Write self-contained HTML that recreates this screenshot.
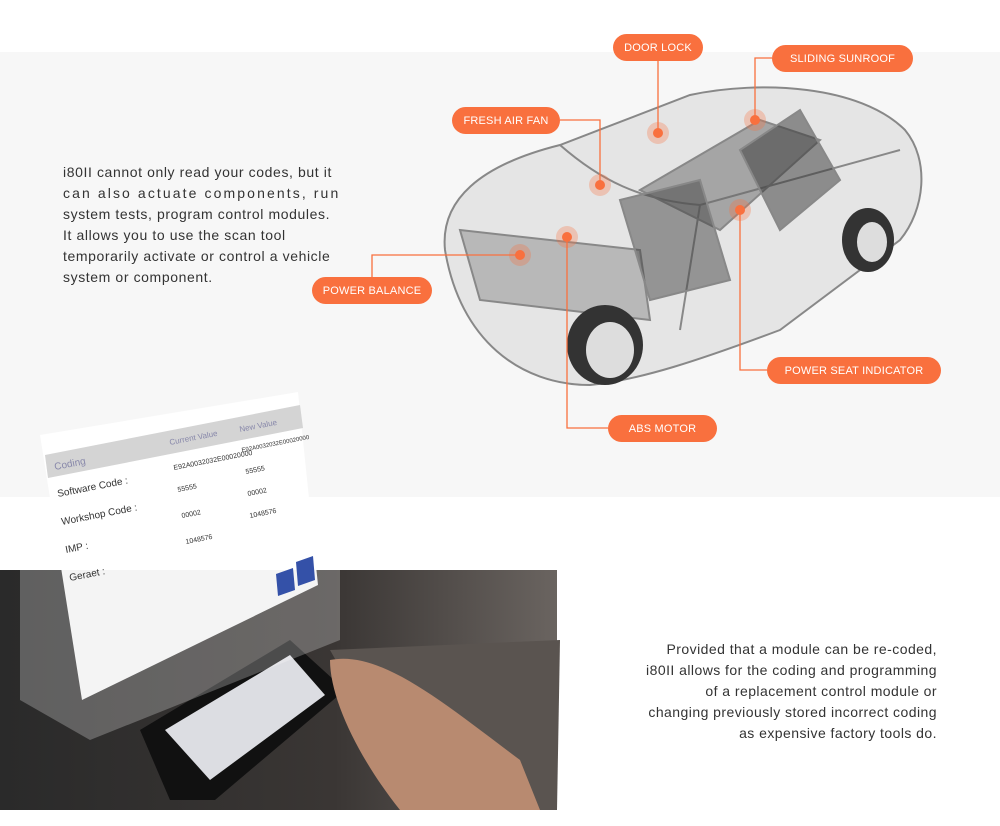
<!DOCTYPE html>
<html><head><meta charset="utf-8"><style>
body{margin:0;width:1000px;height:826px;position:relative;background:#fff;font-family:"Liberation Sans",sans-serif;overflow:hidden}
.bg{position:absolute;left:0;top:52px;width:1000px;height:445px;background:#f7f7f7}
.pill{position:absolute;height:27px;line-height:28px;background:#f9703e;color:#fff;font-size:11px;text-align:center;border-radius:14px;letter-spacing:.2px}
.t1{position:absolute;left:63px;top:162px;font-size:14px;line-height:21px;color:#333;white-space:nowrap;letter-spacing:.6px}
.t2{position:absolute;right:63px;top:639px;font-size:14px;line-height:21px;color:#333;text-align:right;white-space:nowrap;letter-spacing:.45px}
</style></head><body>
<div class="bg"></div>
<div class="t1">i80II cannot only read your codes, but it<br><span style="letter-spacing:2.1px">can also actuate components, run</span><br>system tests, program control modules.<br>It allows you to use the scan tool<br>temporarily activate or control a vehicle<br>system or component.</div>
<svg style="position:absolute;left:0;top:0" width="1000" height="826">
<g fill="none" stroke="#888" stroke-width="2">
<path d="M445,250 C440,200 480,165 560,145 L690,95 C760,80 860,85 905,130 C930,160 925,210 900,240 L780,330 C700,360 640,380 590,385 C520,385 460,340 445,250Z" fill="#ddd" fill-opacity=".7"/>
<path d="M560,145 C600,180 640,200 700,205 L900,150" />
<path d="M700,205 L680,330"/>
<path d="M460,230 L640,250 L650,320 L480,300Z" fill="#999" fill-opacity=".6"/>
<path d="M640,190 L760,120 L820,140 L720,230Z" fill="#666" fill-opacity=".5"/>
<path d="M620,200 L700,180 L730,280 L650,300Z" fill="#444" fill-opacity=".5"/>
<path d="M740,150 L800,110 L840,180 L780,230Z" fill="#333" fill-opacity=".5"/>
</g>
<ellipse cx="605" cy="345" rx="38" ry="40" fill="#333"/><ellipse cx="610" cy="350" rx="24" ry="28" fill="#ddd"/>
<ellipse cx="868" cy="240" rx="26" ry="32" fill="#333"/><ellipse cx="872" cy="242" rx="15" ry="20" fill="#ddd"/>
<g stroke="#f9703e" stroke-width="1.3" fill="none">
<path d="M658,61 V133"/><path d="M772,58 H755 V120"/><path d="M560,120 H600 V185"/>
<path d="M372,277 V255 H520"/><path d="M608,428 H567 V237"/><path d="M767,370 H740 V210"/>
</g>
<g fill="#f9703e">
<circle cx="658" cy="133" r="11" opacity=".3"/><circle cx="658" cy="133" r="5"/>
<circle cx="755" cy="120" r="11" opacity=".3"/><circle cx="755" cy="120" r="5"/>
<circle cx="600" cy="185" r="11" opacity=".3"/><circle cx="600" cy="185" r="5"/>
<circle cx="520" cy="255" r="11" opacity=".3"/><circle cx="520" cy="255" r="5"/>
<circle cx="567" cy="237" r="11" opacity=".3"/><circle cx="567" cy="237" r="5"/>
<circle cx="740" cy="210" r="11" opacity=".3"/><circle cx="740" cy="210" r="5"/>
</g>
<defs><linearGradient id="g" x1="0" x2="1"><stop offset="0" stop-color="#2a2a2a"/><stop offset=".6" stop-color="#3a3634"/><stop offset="1" stop-color="#6a6460"/></linearGradient></defs>
<rect x="0" y="570" width="557" height="240" fill="url(#g)"/>
<path d="M330,650 L560,640 L557,810 L420,810 Z" fill="#5a5450"/>
<path d="M140,730 L290,640 L345,690 L215,800 L170,800Z" fill="#111"/>
<path d="M165,730 L290,655 L325,695 L210,780Z" fill="#dcdde2"/>
<path d="M330,660 C380,650 440,700 520,760 L540,810 L400,810 C360,760 330,700 330,660Z" fill="#b88a70"/>
<path d="M20,560 L340,500 L340,640 L90,740 L20,700Z" fill="#fff" fill-opacity=".25"/>
<path d="M40,435 L298,392 L318,585 L82,700 Z" fill="#fff" fill-opacity=".93"/>
<path d="M45,455 L300,405 L303,428 L48,478 Z" fill="#d4d4d4"/>
<path d="M276,574 L293,568 L295,590 L278,596Z" fill="#3451a8"/>
<path d="M296,562 L313,556 L315,580 L298,586Z" fill="#3451a8"/>
<g font-size="10" fill="#333" font-family="Liberation Sans">
<text x="55" y="470" fill="#88a" transform="rotate(-11 55 470)">Coding</text>
<text x="58" y="497" transform="rotate(-11 58 497)">Software Code :</text>
<text x="62" y="525" transform="rotate(-11 62 525)">Workshop Code :</text>
<text x="66" y="553" transform="rotate(-11 66 553)">IMP :</text>
<text x="70" y="581" transform="rotate(-11 70 581)">Geraet :</text>
<text x="170" y="445" font-size="8" fill="#88a" transform="rotate(-11 170 445)">Current Value</text>
<text x="174" y="470" font-size="7" transform="rotate(-11 174 470)">E92A0032032E00020000</text>
<text x="178" y="492" font-size="7" transform="rotate(-11 178 492)">55555</text>
<text x="182" y="518" font-size="7" transform="rotate(-11 182 518)">00002</text>
<text x="186" y="544" font-size="7" transform="rotate(-11 186 544)">1048576</text>
<text x="240" y="432" font-size="8" fill="#88a" transform="rotate(-11 240 432)">New Value</text>
<text x="242" y="452" font-size="6" transform="rotate(-11 242 452)">E92A0032032E00020000</text>
<text x="246" y="474" font-size="7" transform="rotate(-11 246 474)">55555</text>
<text x="248" y="496" font-size="7" transform="rotate(-11 248 496)">00002</text>
<text x="250" y="518" font-size="7" transform="rotate(-11 250 518)">1048576</text>
</g>
</svg>
<div class="pill" style="left:613px;top:34px;width:90px">DOOR LOCK</div>
<div class="pill" style="left:772px;top:45px;width:141px">SLIDING SUNROOF</div>
<div class="pill" style="left:452px;top:107px;width:108px">FRESH AIR FAN</div>
<div class="pill" style="left:312px;top:277px;width:120px">POWER BALANCE</div>
<div class="pill" style="left:767px;top:357px;width:174px">POWER SEAT INDICATOR</div>
<div class="pill" style="left:608px;top:415px;width:109px">ABS MOTOR</div>
<div class="t2">Provided that a module can be re-coded,<br>i80II allows for the coding and programming<br>of a replacement control module or<br>changing previously stored incorrect coding<br>as expensive factory tools do.</div>
</body></html>
